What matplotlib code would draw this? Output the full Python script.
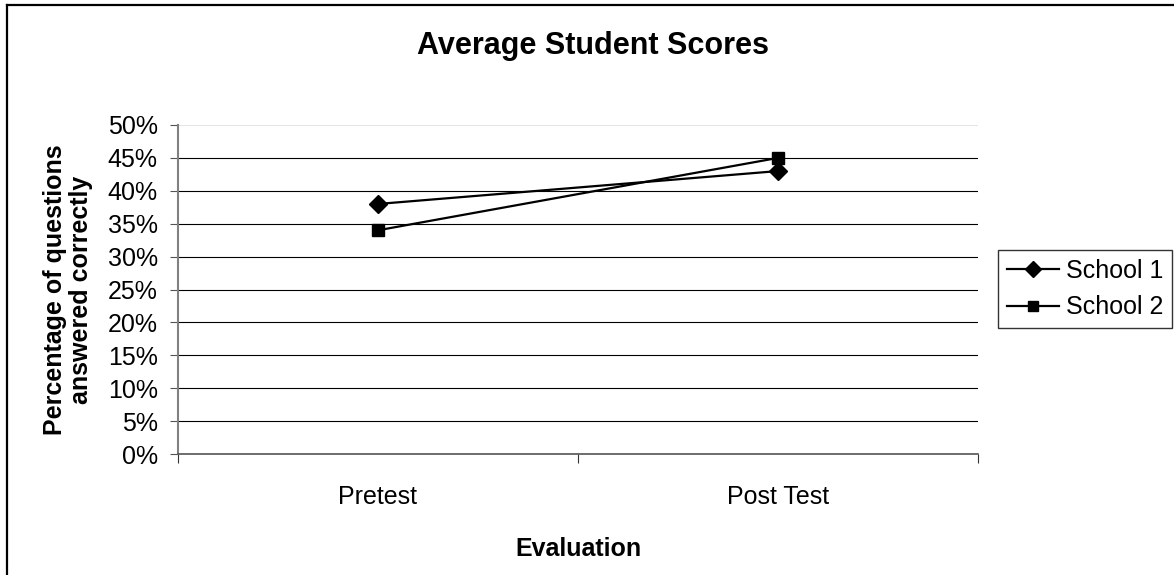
import matplotlib
matplotlib.use("Agg")
import matplotlib.pyplot as plt
from matplotlib.lines import Line2D
from matplotlib.ticker import FixedLocator, PercentFormatter

categories = ["Pretest", "Post Test"]
school1 = [0.38, 0.43]
school2 = [0.34, 0.45]
series_names = ["School 1", "School 2"]
yticks = [0.0, 0.05, 0.10, 0.15, 0.20, 0.25, 0.30, 0.35, 0.40, 0.45, 0.50]

plt.rcParams['font.family'] = ['Liberation Sans', 'DejaVu Sans']

W, H = 1174, 575
fig = plt.figure(figsize=(W / 100, H / 100), dpi=100)
fig.patch.set_facecolor('white')

ax = fig.add_axes([178 / W, 1 - 454 / H, 800 / W, 329 / H])

x = list(range(len(categories)))
ax.plot(x, school1, color='black', lw=1.6, marker='D', ms=9, label=series_names[0], zorder=3)
ax.plot(x, school2, color='black', lw=1.6, marker='s', ms=8, label=series_names[1], zorder=3)

ax.set_xlim(-0.5, len(categories) - 0.5)
ax.set_ylim(0, 0.5)

# y axis
ax.yaxis.set_major_locator(FixedLocator(yticks))
ax.yaxis.set_major_formatter(PercentFormatter(1.0, decimals=0))
ax.tick_params(axis='y', which='major', direction='out', length=6, width=0.8,
               color='#555555', pad=8.5, labelsize=18)
ax.yaxis.grid(True, color='black', lw=0.8)
gl = ax.get_ygridlines()
gl[-1].set_color('#e6e6e6')
ax.set_axisbelow(True)

# x axis: boundary ticks + category labels
ax.xaxis.set_major_locator(FixedLocator([-0.5, 0.5, 1.5]))
ax.xaxis.set_minor_locator(FixedLocator(x))
ax.set_xticklabels([])
ax.set_xticklabels(categories, minor=True)
ax.tick_params(axis='x', which='major', direction='out', length=6.5, width=0.8, color='#333333')
ax.tick_params(axis='x', which='minor', length=0, pad=22, labelsize=18)

for s in ['top', 'right']:
    ax.spines[s].set_visible(False)
ax.spines['left'].set_color('#808080')
ax.spines['left'].set_linewidth(1.5)
ax.spines['bottom'].set_color('#555555')
ax.spines['bottom'].set_linewidth(1.2)

# titles
fig.text(593 / W, 1 - 46 / H, "Average Student Scores", ha='center', va='center',
         fontsize=22, fontweight='bold')
fig.text(578 / W, 1 - 549 / H, "Evaluation", ha='center', va='center',
         fontsize=18, fontweight='bold')
fig.text(68 / W, 1 - 290 / H, "Percentage of questions\nanswered correctly", ha='center',
         va='center', rotation=90, fontsize=18, fontweight='bold', multialignment='center',
         linespacing=1.15)

# legend
leg = ax.legend(loc='center left', bbox_to_anchor=(998 / W, 1 - 289 / H),
                bbox_transform=fig.transFigure, frameon=True, fancybox=False,
                edgecolor='black', fontsize=18, handlelength=2.1, handletextpad=0.25,
                borderpad=0.35, labelspacing=0.5, borderaxespad=0, markerscale=0.85)
leg.get_frame().set_linewidth(1.0)

# chart area border (top & left visible)
fig.add_artist(Line2D([7 / W, 7 / W], [0, 1 - 5 / H], color='black', lw=1.6,
                      transform=fig.transFigure))
fig.add_artist(Line2D([7 / W, 1], [1 - 5 / H, 1 - 5 / H], color='black', lw=1.6,
                      transform=fig.transFigure))

fig.savefig("out.png", dpi=100)
